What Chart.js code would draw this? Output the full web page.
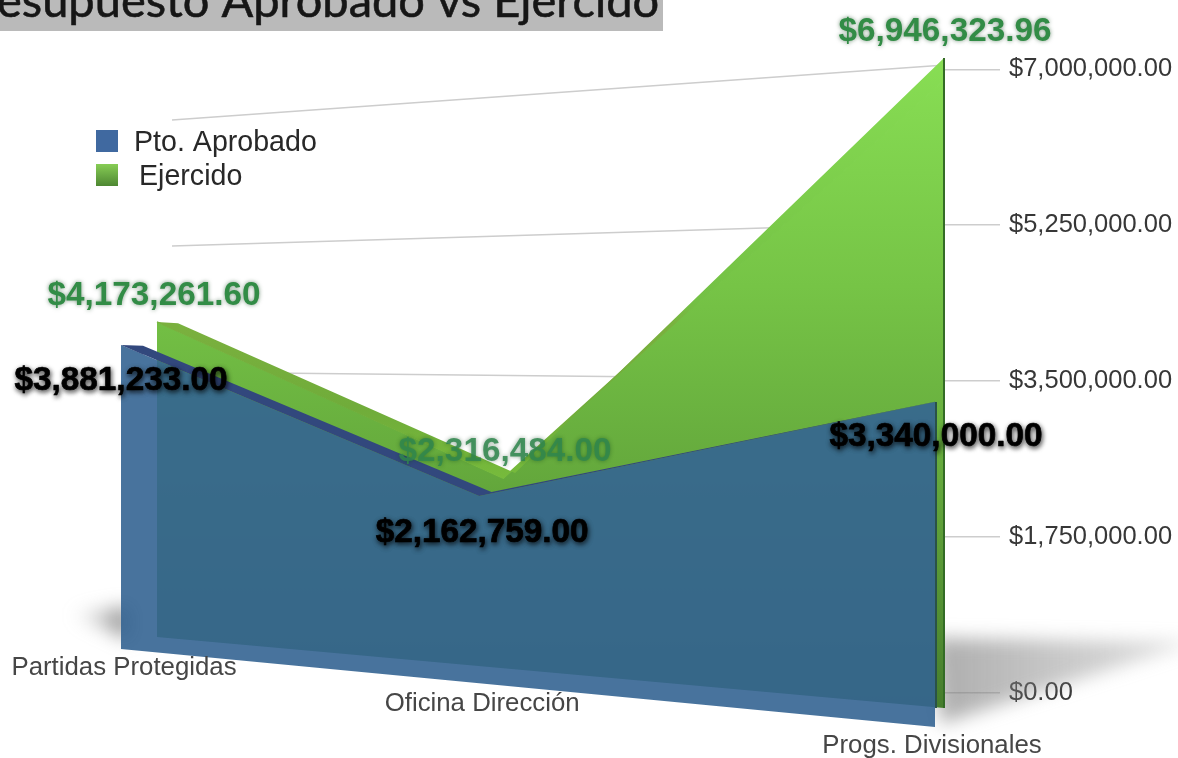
<!DOCTYPE html>
<html>
<head>
<meta charset="utf-8">
<style>
  html, body { margin: 0; padding: 0; background: #fff; }
  canvas { display: block; }
</style>
<script src="https://cdn.jsdelivr.net/npm/chart.js@4/dist/chart.umd.js"></script>
</head>
<body>
<canvas id="areaChart" width="1178" height="758"></canvas>
<script>
const titleText = 'esupuesto Aprobado vs Ejercido';
const categories = ['Partidas Protegidas', 'Oficina Dirección', 'Progs. Divisionales'];
const seriesNames = ['Pto. Aprobado', 'Ejercido'];
const aprobado = [3881233.00, 2162759.00, 3340000.00];
const ejercido = [4173261.60, 2316484.00, 6946323.96];
const floorValues = [0, 0, 0];
const tickValues = [0, 1750000, 3500000, 5250000, 7000000];
// how far along the slanted floor each category sits (0 = left, 1 = right)
const categoryDepth = [0, 0.44, 1];

const FONT = '"Liberation Sans", Arial, sans-serif';
const money = v => '$' + v.toLocaleString('en-US', { minimumFractionDigits: 2, maximumFractionDigits: 2 });
const onDepth = values => values.map((y, i) => ({ x: categoryDepth[i], y }));

// x axis stretched between two pixels
class AnchorX extends Chart.LinearScale {
    static id = 'anchorX';
    static defaults = Chart.LinearScale.defaults;
    getPixelForValue(value) {
        const [from, to] = this.options.span;
        return from + value * (to - from);
    }
}

// y axis in perspective: floor and px per million change from left to right
class SlabY extends Chart.LinearScale {
    static id = 'slabY';
    static defaults = Chart.LinearScale.defaults;
    getPixelForValue(value, index) {
        const { floor, ppm } = this.options;
        const d = index === undefined ? 1 : categoryDepth[index];
        return floor[0] + d * (floor[1] - floor[0]) - (value / 1e6) * (ppm[0] + d * (ppm[1] - ppm[0]));
    }
}
Chart.register(AnchorX, SlabY);

const canvas = document.getElementById('areaChart');
const ctx = canvas.getContext('2d');

function vertical(y0, y1, stops) {
    const g = ctx.createLinearGradient(0, y0, 0, y1);
    stops.forEach(([at, color]) => g.addColorStop(at, color));
    return g;
}
const greenFace = vertical(58, 710, [[0, 'rgb(136,222,84)'], [0.35, 'rgb(118,196,70)'], [0.65, 'rgb(100,168,60)'], [1, 'rgb(70,125,45)']]);
const greenTop = vertical(58, 495, [[0, 'rgb(136,222,84)'], [0.56, 'rgb(115,192,68)'], [0.62, 'rgb(122,176,62)'], [0.8, 'rgb(112,172,58)'], [1, 'rgb(120,190,60)']]);

function slab(label, data, xAxisID, yAxisID, fill, backgroundColor, border) {
    return {
        label, data: onDepth(data), xAxisID, yAxisID, fill, backgroundColor,
        borderWidth: border ? 1.5 : 0, borderColor: border || 'transparent',
        pointRadius: 0, tension: 0, clip: false
    };
}

function hiddenY(floor, ppm) {
    return { type: 'slabY', display: false, min: 0, max: 7000000, floor, ppm };
}
function hiddenX(span) {
    return { type: 'anchorX', display: false, min: 0, max: 1, span };
}

const decorations = {
    id: 'decorations',
    beforeDatasetsDraw(chart) {
        const c = chart.ctx;
        // soft floor shadows
        c.save();
        c.filter = 'blur(9px)';
        let g = c.createLinearGradient(940, 0, 1190, 0);
        g.addColorStop(0, 'rgba(120,120,120,0.6)');
        g.addColorStop(1, 'rgba(150,150,150,0.3)');
        c.fillStyle = g;
        c.beginPath();
        c.moveTo(935, 638); c.lineTo(1195, 642); c.lineTo(940, 724);
        c.closePath();
        c.fill();
        g = c.createLinearGradient(125, 0, 70, 0);
        g.addColorStop(0, 'rgba(100,100,100,0.7)');
        g.addColorStop(1, 'rgba(160,160,160,0)');
        c.fillStyle = g;
        c.beginPath();
        c.moveTo(130, 606); c.lineTo(130, 640); c.lineTo(68, 614);
        c.closePath();
        c.fill();
        c.restore();

        // slanted grid lines on the back wall
        const wallX = chart.scales.xWall, wallY = chart.scales.yWall;
        c.save();
        c.strokeStyle = 'rgb(205,205,205)';
        c.lineWidth = 1.5;
        tickValues.forEach(v => {
            c.beginPath();
            c.moveTo(wallX.getPixelForValue(0), wallY.getPixelForValue(v, 0));
            c.lineTo(wallX.getPixelForValue(1), wallY.getPixelForValue(v, 2));
            c.stroke();
        });
        c.restore();
    },
    afterDatasetsDraw(chart) {
        const c = chart.ctx;
        const pts = i => chart.getDatasetMeta(i).data;
        const blueBack = pts(0), blue = pts(1), blueFloor = pts(2), greenBack = pts(3), green = pts(4), greenFloor = pts(5);

        // flat corners where the top face starts, left of the back edge
        const corner = (front, back, color) => {
            const t = (back[0].x - front[0].x) / (front[1].x - front[0].x);
            c.fillStyle = color;
            c.beginPath();
            c.moveTo(front[0].x, front[0].y);
            c.lineTo(back[0].x, back[0].y);
            c.lineTo(back[0].x + 0.5, front[0].y + t * (front[1].y - front[0].y) + 0.5);
            c.closePath();
            c.fill();
        };
        corner(green, greenBack, 'rgb(122,176,62)');
        corner(blue, blueBack, 'rgb(50,72,125)');

        // right hand edges
        c.save();
        c.lineWidth = 2;
        c.strokeStyle = 'rgb(52,108,38)';
        c.beginPath();
        c.moveTo(greenBack[2].x, greenBack[2].y);
        c.lineTo(greenFloor[2].x, greenFloor[2].y);
        c.stroke();
        c.strokeStyle = 'rgb(42,82,72)';
        c.beginPath();
        c.moveTo(blue[2].x + 1, blue[2].y);
        c.lineTo(blue[2].x + 1, greenFloor[2].y);
        c.stroke();
        c.restore();

        // category names under the floor
        c.save();
        c.font = '25.8px ' + FONT;
        c.fillStyle = 'rgb(70,70,70)';
        c.textAlign = 'center';
        c.textBaseline = 'middle';
        const nameOffset = [[3, 19], [3, 21], [-3, 19]];
        categories.forEach((name, i) => {
            c.fillText(name, blueFloor[i].x + nameOffset[i][0], blueFloor[i].y + nameOffset[i][1]);
        });
        c.restore();

        // value labels
        c.save();
        c.font = 'bold 33.3px ' + FONT;
        c.textAlign = 'center';
        c.textBaseline = 'middle';
        c.lineJoin = 'round';
        const greenOffset = [[-24, -27], [-10, -21], [1, -26]];
        ejercido.forEach((v, i) => {
            c.shadowColor = 'rgba(20,70,30,0.55)';
            c.shadowBlur = 4;
            c.fillStyle = i === 1 ? 'rgba(48,135,78,0.85)' : 'rgb(50,140,70)';
            c.fillText(money(v), greenBack[i].x + greenOffset[i][0], greenBack[i].y + greenOffset[i][1]);
        });
        const blueOffset = [[0, 36], [3, 37], [1, 35]];
        aprobado.forEach((v, i) => {
            c.shadowColor = 'rgba(0,0,0,0.75)';
            c.shadowBlur = 5;
            c.shadowOffsetX = 1;
            c.shadowOffsetY = 2;
            c.fillStyle = '#000';
            c.strokeStyle = '#000';
            c.lineWidth = 0.7;
            c.strokeText(money(v), blue[i].x + blueOffset[i][0], blue[i].y + blueOffset[i][1]);
            c.fillText(money(v), blue[i].x + blueOffset[i][0], blue[i].y + blueOffset[i][1]);
        });
        c.restore();

        // legend
        c.save();
        c.font = '28.6px ' + FONT;
        c.textBaseline = 'middle';
        c.fillStyle = 'rgb(64,105,160)';
        c.fillRect(96, 130, 22, 22);
        const sw = c.createLinearGradient(0, 164, 0, 186);
        sw.addColorStop(0, 'rgb(135,205,85)');
        sw.addColorStop(1, 'rgb(78,135,50)');
        c.fillStyle = sw;
        c.fillRect(96, 164, 22, 22);
        c.fillStyle = 'rgb(40,40,40)';
        c.fillText(seriesNames[0], 134, 143);
        c.fillText(seriesNames[1], 139, 177);
        c.restore();

        // title bar, cut by the top edge of the picture
        c.save();
        c.fillStyle = 'rgb(186,186,186)';
        c.fillRect(0, 0, 663, 31);
        c.font = '47px Lato, sans-serif';
        c.fillStyle = 'rgb(22,22,22)';
        c.strokeStyle = 'rgb(22,22,22)';
        c.lineWidth = 0.6;
        c.textBaseline = 'alphabetic';
        c.strokeText(titleText, -3, 17);
        c.fillText(titleText, -3, 17);
        c.restore();
    }
};

new Chart(canvas, {
    type: 'line',
    data: {
        labels: categories,
        datasets: [
            slab(seriesNames[0] + ' top', aprobado, 'xBlueBack', 'yBlueBack', '+1', 'rgb(50,72,125)'),
            slab(seriesNames[0], aprobado, 'xBlue', 'yBlue', '+1', 'rgba(52,100,146,0.9)'),
            slab('floor', floorValues, 'xBlue', 'yBlue', false, 'transparent'),
            slab(seriesNames[1] + ' top', ejercido, 'xGreenBack', 'yGreenBack', '+1', greenTop),
            slab(seriesNames[1], ejercido, 'xGreen', 'yGreen', '+1', greenFace, greenTop),
            slab('floor', floorValues, 'xGreen', 'yGreen', false, 'transparent')
        ]
    },
    options: {
        responsive: false,
        animation: false,
        events: [],
        layout: { padding: 0 },
        plugins: { legend: { display: false }, tooltip: { enabled: false } },
        scales: {
            xBlue: hiddenX([121, 935]),
            xBlueBack: hiddenX([143, 935]),
            xGreen: hiddenX([157, 944]),
            xGreenBack: hiddenX([178, 944]),
            xWall: hiddenX([172, 945]),
            yBlue: hiddenY([649, 727], [78.3, 97.3]),
            yBlueBack: hiddenY([640, 715], [75.8, 93.8]),
            yGreen: hiddenY([637, 708], [75.5, 90.4]),
            yGreenBack: hiddenY([632, 704], [74, 93]),
            yWall: hiddenY([624, 695], [72, 90]),
            y: {
                type: 'slabY',
                position: 'right',
                min: 0,
                max: 7000000,
                floor: [693, 693],
                ppm: [89.1, 89.1],
                afterFit: s => { s.width = 233; },
                afterBuildTicks: s => { s.ticks = tickValues.map(value => ({ value })); },
                border: { display: false },
                grid: { drawOnChartArea: false, tickLength: 55, color: 'rgb(205,205,205)', lineWidth: 1.5 },
                ticks: {
                    autoSkip: false,
                    padding: 9,
                    color: 'rgb(55,55,55)',
                    font: { family: FONT, size: 25.5 },
                    callback: v => money(v)
                }
            }
        }
    },
    plugins: [decorations]
});
</script>
</body>
</html>
